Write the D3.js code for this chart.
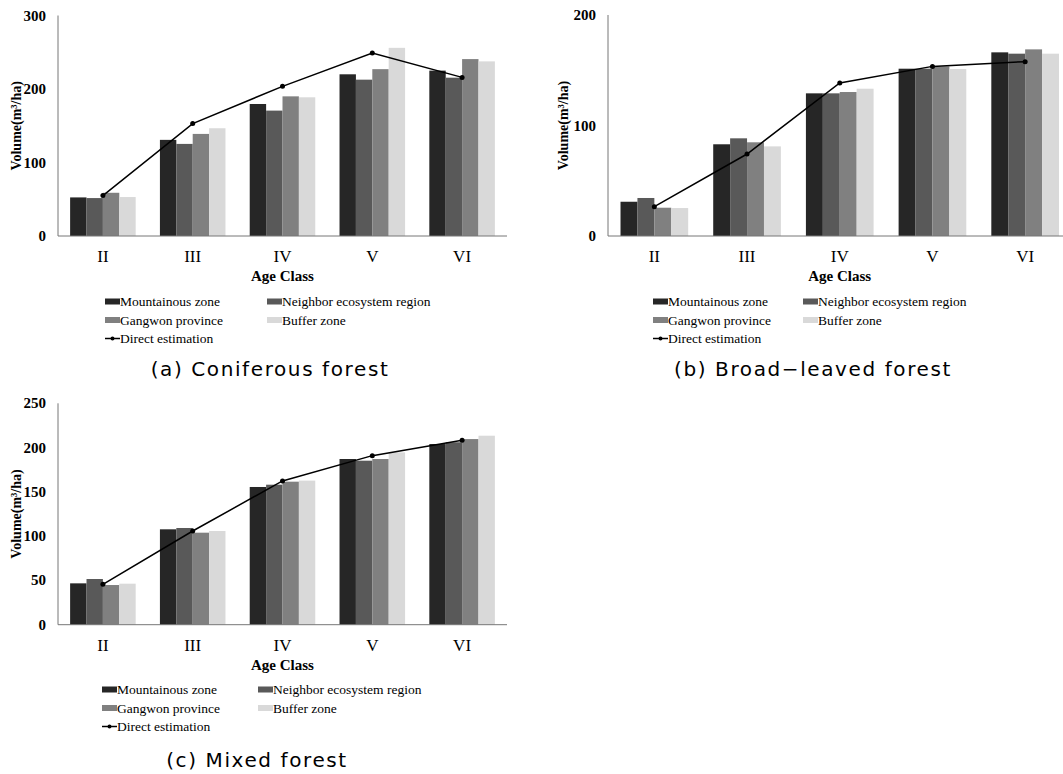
<!DOCTYPE html>
<html>
<head>
<meta charset="utf-8">
<script src="https://cdn.jsdelivr.net/npm/d3@7"></script>
<style>
  body { margin: 0; background: #fff; }
  svg { display: block; }
</style>
</head>
<body>
<svg id="chart"></svg>
<script>
const ageClasses = ["II", "III", "IV", "V", "VI"];
const seriesNames = ["Mountainous zone", "Neighbor ecosystem region", "Gangwon province", "Buffer zone"];
const seriesColors = ["#262626", "#595959", "#808080", "#d9d9d9"];
const lineName = "Direct estimation";

// (a) coniferous forest
const conMountain = [52.5, 130.8, 179.6, 220, 225];
const conNeighbor = [51.6, 125.3, 170.6, 212.7, 215.4];
const conGangwon = [58.8, 138.9, 190, 227, 240.7];
const conBuffer = [53, 146.6, 188.7, 256, 237.6];
const conDirect = [55, 153, 203.6, 248.9, 215.8];

// (b) broad-leaved forest
const broMountain = [31, 83, 129.1, 151.4, 166.2];
const broNeighbor = [34.4, 88.4, 129.1, 151.4, 165];
const broGangwon = [25.6, 84.8, 130.3, 153.5, 168.9];
const broBuffer = [25.3, 81.1, 133.3, 151.1, 165];
const broDirect = [26.5, 74.2, 138.5, 153.5, 157.8];

// (c) mixed forest
const mixMountain = [46.7, 107.7, 155.5, 187.1, 204];
const mixNeighbor = [51.6, 109.2, 158.1, 185.2, 206];
const mixGangwon = [44.8, 103.9, 161.5, 187.1, 209.6];
const mixBuffer = [46.3, 105.8, 162.7, 194.6, 213.4];
const mixDirect = [45.6, 105.8, 162.3, 190.9, 208.2];

const conTicks = [0, 100, 200, 300];
const broTicks = [0, 100, 200];
const mixTicks = [0, 50, 100, 150, 200, 250];

const serif = '"Liberation Serif", "Times New Roman", "DejaVu Serif", serif';
const sans = '"DejaVu Sans", "Noto Sans", sans-serif';

let svg = d3.select('#chart').attr('width', 1063).attr('height', 774);

function drawPanel(p) {
    let g = svg.append('g');
    let x0 = d3.scaleBand().domain(ageClasses)
        .range([p.left, p.right]).paddingInner(0.27).paddingOuter(0.135);
    let x1 = d3.scaleBand().domain(d3.range(4)).range([0, x0.bandwidth()]);
    let y = d3.scaleLinear().domain(p.yDomain).range([p.bottom, p.top]);

    // bars
    p.series.forEach((vals, s) => {
        g.selectAll('rect.s' + s)
            .data(vals).enter().append('rect')
            .attr('x', (d, i) => x0(ageClasses[i]) + x1(s))
            .attr('width', x1.bandwidth())
            .attr('y', d => y(d))
            .attr('height', d => y(0) - y(d))
            .attr('fill', seriesColors[s]);
    });

    // axes lines
    g.append('line').attr('x1', p.left).attr('x2', p.left)
        .attr('y1', y(p.yDomain[1])).attr('y2', y(0))
        .attr('stroke', '#777').attr('stroke-width', 1);
    g.append('line').attr('x1', p.left).attr('x2', p.right)
        .attr('y1', y(0)).attr('y2', y(0))
        .attr('stroke', '#777').attr('stroke-width', 1);

    // y tick labels
    g.selectAll('text.ty').data(p.ticks).enter().append('text')
        .attr('font-family', serif).attr('font-weight', 'bold').attr('font-size', 15)
        .attr('x', p.left - 12).attr('y', d => y(d) + 5)
        .attr('text-anchor', 'end').text(d => d);

    // x tick labels
    g.selectAll('text.tx').data(ageClasses).enter().append('text')
        .attr('font-family', serif).attr('font-size', 17)
        .attr('x', d => x0(d) + x0.bandwidth() / 2).attr('y', y(0) + 26)
        .attr('text-anchor', 'middle').text(d => d);

    // axis titles
    g.append('text')
        .attr('font-family', serif).attr('font-weight', 'bold').attr('font-size', 15)
        .attr('x', (p.left + p.right) / 2).attr('y', y(0) + 45)
        .attr('text-anchor', 'middle').text('Age Class');
    g.append('text')
        .attr('font-family', serif).attr('font-weight', 'bold').attr('font-size', 14)
        .attr('transform', `translate(${p.yLabelX},${(p.top + p.bottom) / 2}) rotate(-90)`)
        .attr('text-anchor', 'middle')
        .text('Volume(m³/ha)');

    // direct estimation line
    let line = d3.line()
        .x((d, i) => x0(ageClasses[i]) + x0.bandwidth() / 2)
        .y(d => y(d));
    g.append('path').datum(p.direct)
        .attr('d', line).attr('fill', 'none')
        .attr('stroke', '#000').attr('stroke-width', 1.5);
    g.selectAll('circle').data(p.direct).enter().append('circle')
        .attr('cx', (d, i) => x0(ageClasses[i]) + x0.bandwidth() / 2)
        .attr('cy', d => y(d)).attr('r', 2.5).attr('fill', '#000');

    // legend
    let lg = g.append('g');
    seriesNames.forEach((name, s) => {
        let lx = p.legendX + (s % 2) * p.legendCol;
        let ly = p.legendY + Math.floor(s / 2) * 18.5;
        lg.append('rect').attr('x', lx).attr('y', ly - 3)
            .attr('width', 15).attr('height', 6).attr('fill', seriesColors[s]);
        lg.append('text').attr('font-family', serif).attr('font-size', 13.5)
            .attr('x', lx + 15).attr('y', ly + 4.5).text(name);
    });
    let ly = p.legendY + 2 * 18.5;
    lg.append('line').attr('x1', p.legendX).attr('x2', p.legendX + 15)
        .attr('y1', ly).attr('y2', ly).attr('stroke', '#000').attr('stroke-width', 1.5);
    lg.append('circle').attr('cx', p.legendX + 7.5).attr('cy', ly).attr('r', 2).attr('fill', '#000');
    lg.append('text').attr('font-family', serif).attr('font-size', 13.5)
        .attr('x', p.legendX + 15).attr('y', ly + 4.5).text(lineName);

    // caption
    g.append('text')
        .attr('font-family', sans).attr('font-size', 20).attr('letter-spacing', 1.6)
        .attr('x', p.captionX).attr('y', p.captionY)
        .attr('text-anchor', 'middle').text(p.caption);
}

drawPanel({
    left: 58, right: 507, top: 15.5, bottom: 236, yDomain: [0, 300], ticks: conTicks,
    series: [conMountain, conNeighbor, conGangwon, conBuffer], direct: conDirect,
    yLabelX: 21, legendX: 105, legendY: 301.5, legendCol: 162,
    caption: '(a) Coniferous forest', captionX: 270, captionY: 376
});
drawPanel({
    left: 608, right: 1071.5, top: 15, bottom: 236, yDomain: [0, 200], ticks: broTicks,
    series: [broMountain, broNeighbor, broGangwon, broBuffer], direct: broDirect,
    yLabelX: 568, legendX: 653, legendY: 301.5, legendCol: 150,
    caption: '(b) Broad\u2212leaved forest', captionX: 813, captionY: 376
});
drawPanel({
    left: 58, right: 507, top: 403.3, bottom: 624.7, yDomain: [0, 250], ticks: mixTicks,
    series: [mixMountain, mixNeighbor, mixGangwon, mixBuffer], direct: mixDirect,
    yLabelX: 21, legendX: 102, legendY: 689.5, legendCol: 156,
    caption: '(c) Mixed forest', captionX: 257, captionY: 767
});
</script>
</body>
</html>
